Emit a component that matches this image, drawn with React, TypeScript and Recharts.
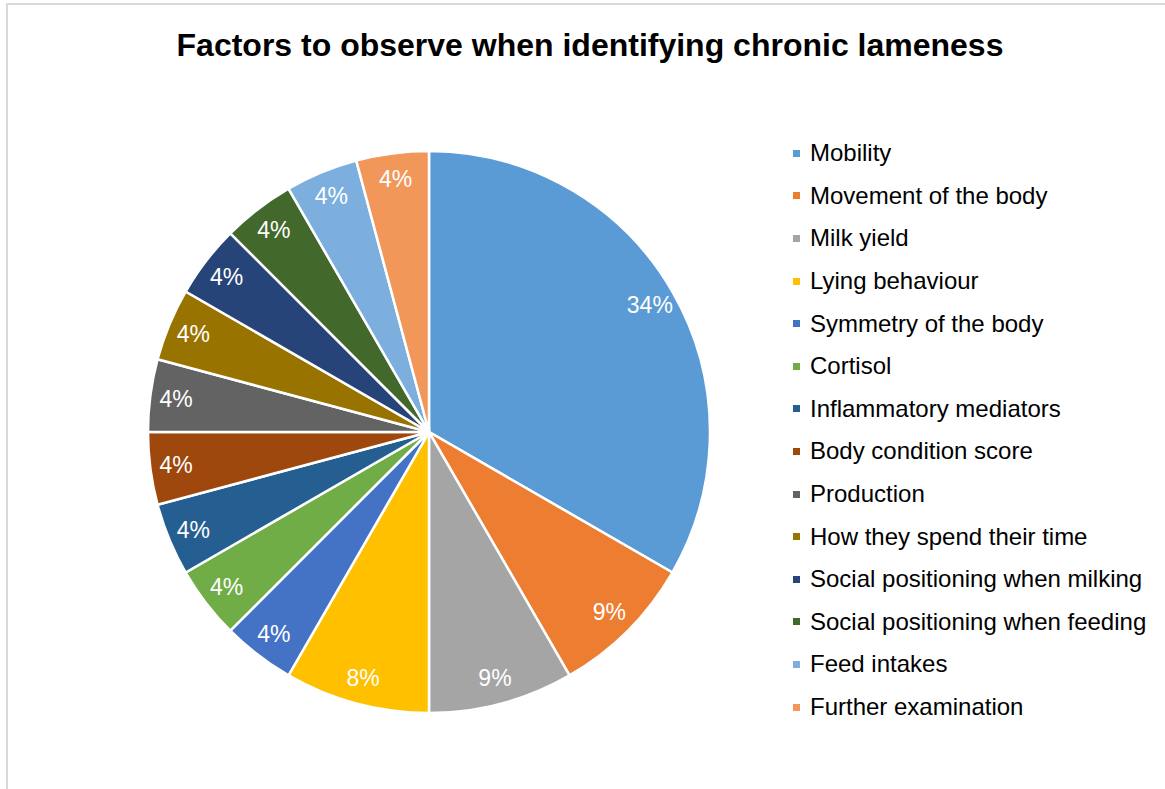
import React from "react";
import { PieChart, Pie, Cell, Legend } from "recharts";

const categories = [
  "Mobility",
  "Movement of the body",
  "Milk yield",
  "Lying behaviour",
  "Symmetry of the body",
  "Cortisol",
  "Inflammatory mediators",
  "Body condition score",
  "Production",
  "How they spend their time",
  "Social positioning when milking",
  "Social positioning when feeding",
  "Feed intakes",
  "Further examination",
];

const counts = [8, 2, 2, 2, 1, 1, 1, 1, 1, 1, 1, 1, 1, 1];

const colors = [
  "#5B9BD5",
  "#ED7D31",
  "#A5A5A5",
  "#FFC000",
  "#4472C4",
  "#70AD47",
  "#255E91",
  "#9E480E",
  "#636363",
  "#997300",
  "#264478",
  "#43682B",
  "#7CAFDD",
  "#F1975A",
];

const title = "Factors to observe when identifying chronic lameness";

// Percentages rounded so they sum to 100 (largest remainder), as the spreadsheet does
function roundedPercents(vals: number[]): number[] {
  const total = vals.reduce((a, b) => a + b, 0);
  const raw = vals.map((v) => (v / total) * 100);
  const base = raw.map((r) => Math.floor(r));
  let diff = 100 - base.reduce((a, b) => a + b, 0);
  const order = raw
    .map((r, i) => ({ i, rem: Math.round((r - Math.floor(r)) * 1e6) / 1e6 }))
    .sort((a, b) => b.rem - a.rem || a.i - b.i);
  let k = 0;
  while (diff > 0 && k < order.length) {
    base[order[k].i] += 1;
    diff -= 1;
    k++;
  }
  return base;
}

const percents = roundedPercents(counts);

const data = categories.map((name, i) => ({
  name,
  value: counts[i],
  pct: percents[i],
  fill: colors[i],
}));

const FONT = "'Liberation Sans', Arial, sans-serif";
const RADIAN = Math.PI / 180;

const renderLabel = (props: any) => {
  const { cx, cy, midAngle, index } = props;
  const r = 255;
  const x = cx + r * Math.cos(-midAngle * RADIAN);
  const y = cy + r * Math.sin(-midAngle * RADIAN);
  return (
    <text
      x={x}
      y={y}
      fill="#FFFFFF"
      textAnchor="middle"
      dominantBaseline="central"
      fontFamily={FONT}
      fontSize={23}
    >
      {`${data[index].pct}%`}
    </text>
  );
};

const renderLegend = () => (
  <div style={{ fontFamily: FONT, fontSize: 24, color: "#000" }}>
    {data.map((d) => (
      <div
        key={d.name}
        style={{
          height: 42.6,
          display: "flex",
          alignItems: "center",
          whiteSpace: "nowrap",
        }}
      >
        <span
          style={{
            display: "inline-block",
            width: 7,
            height: 7,
            background: d.fill,
            marginRight: 10,
          }}
        />
        <span>{d.name}</span>
      </div>
    ))}
  </div>
);

export default function App() {
  return (
    <div
      style={{
        position: "absolute",
        left: 0,
        top: 0,
        width: 1165,
        height: 789,
        background: "#fff",
        overflow: "hidden",
      }}
    >
      <div
        style={{
          position: "absolute",
          left: 6,
          top: 3,
          width: 1300,
          height: 900,
          borderTop: "2px solid #D9D9D9",
          borderLeft: "2px solid #D9D9D9",
        }}
      />
      <div
        style={{
          position: "absolute",
          left: 0,
          top: 25,
          width: 1180,
          textAlign: "center",
          fontFamily: FONT,
          fontWeight: "bold",
          fontSize: 32,
          lineHeight: "40px",
          color: "#000",
        }}
      >
        {title}
      </div>
      <div style={{ position: "absolute", left: 0, top: 0 }}>
        <PieChart width={1165} height={789} margin={{ top: 0, right: 0, bottom: 0, left: 0 }}>
          <Pie
            data={data}
            dataKey="value"
            nameKey="name"
            cx={429}
            cy={432}
            outerRadius={281}
            innerRadius={0}
            startAngle={90}
            endAngle={-270}
            stroke="#FFFFFF"
            strokeWidth={2.5}
            label={renderLabel}
            labelLine={false}
            isAnimationActive={false}
          >
            {data.map((d) => (
              <Cell key={d.name} fill={d.fill} />
            ))}
          </Pie>
          <Legend
            layout="vertical"
            content={renderLegend}
            wrapperStyle={{ position: "absolute", left: 793, top: 132, width: 370 }}
          />
        </PieChart>
      </div>
    </div>
  );
}
